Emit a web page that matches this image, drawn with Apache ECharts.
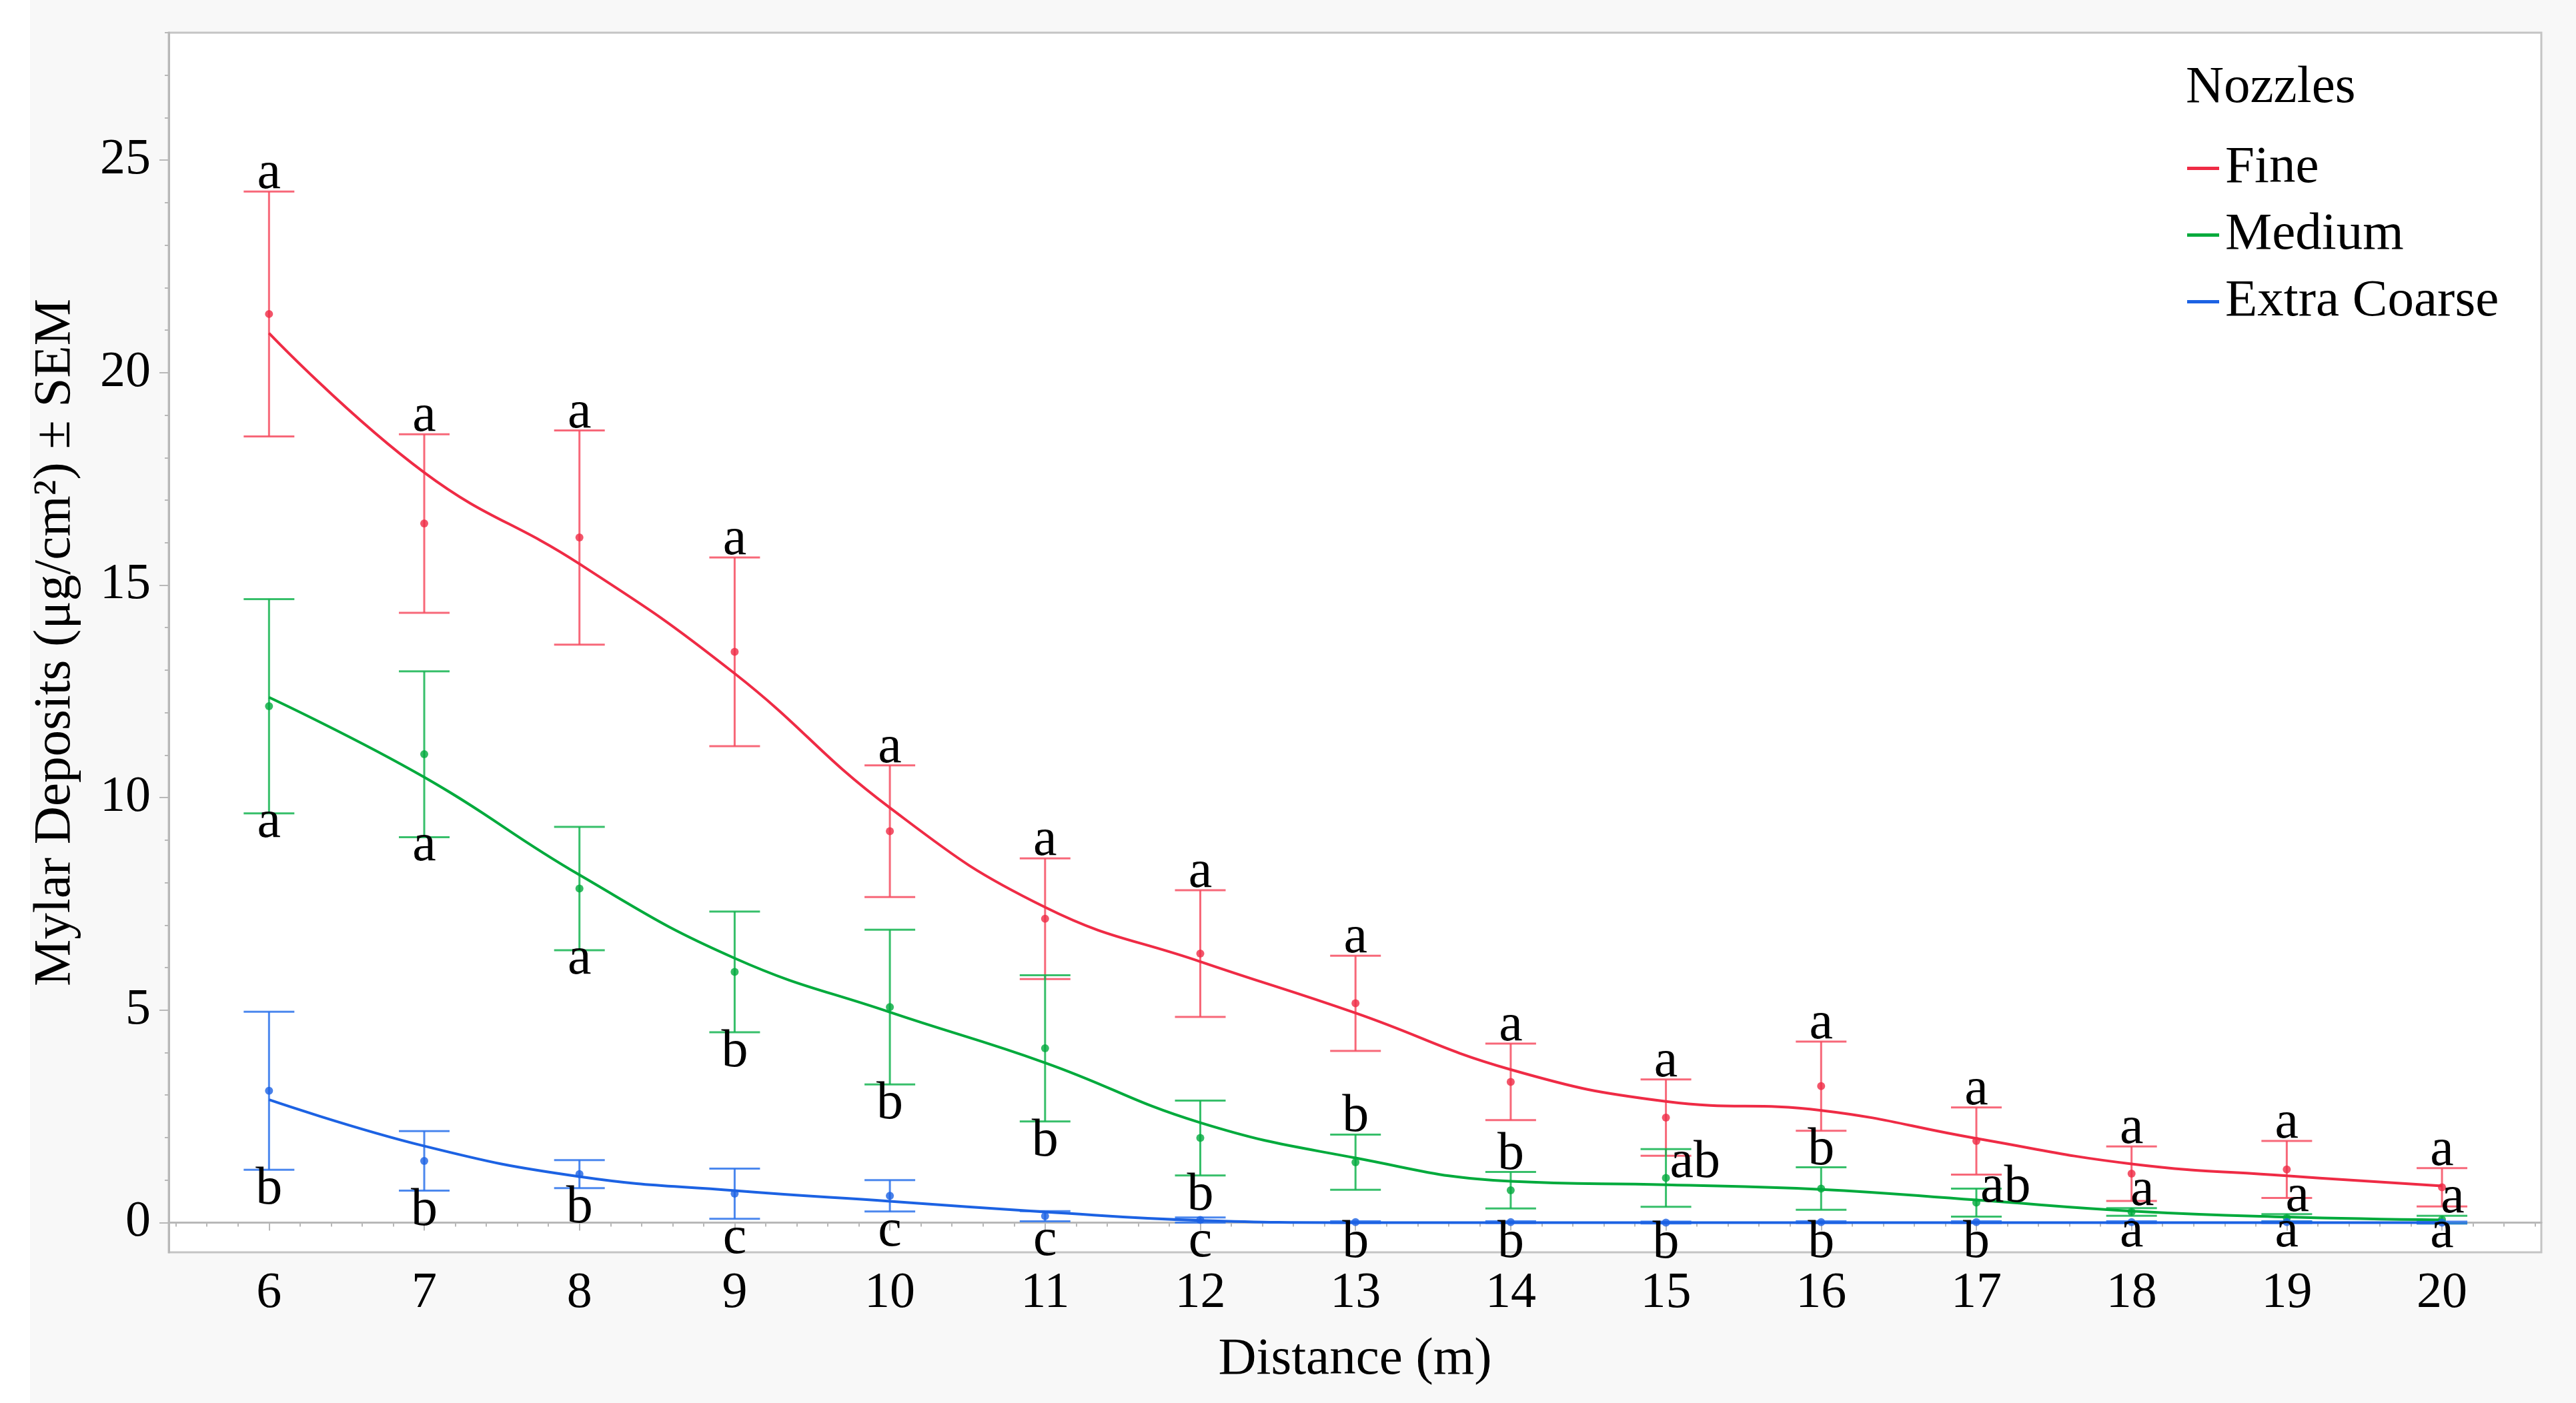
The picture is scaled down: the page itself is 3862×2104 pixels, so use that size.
<!DOCTYPE html>
<html><head><meta charset="utf-8">
<script src="https://cdn.jsdelivr.net/npm/echarts@6/dist/echarts.min.js"></script>
<style>html,body{margin:0;padding:0;background:#fff}#c{width:3862px;height:2104px}</style>
</head><body><div id="c"></div>
<script>
// ---------------- data ----------------
const distances = [6, 7, 8, 9, 10, 11, 12, 13, 14, 15, 16, 17, 18, 19, 20];
const xTickLabels = [6, 7, 8, 9, 10, 11, 12, 13, 14, 15, 16, 17, 18, 19, 20];
const yTickLabels = [0, 5, 10, 15, 20, 25];
const seriesNames = ['Fine', 'Medium', 'Extra Coarse'];

const fineMean = [21.38, 16.45, 16.12, 13.43, 9.21, 7.15, 6.33, 5.16, 3.31, 2.47, 3.21, 1.92, 1.15, 1.25, 0.83];
const fineSEM  = [2.88, 2.10, 2.52, 2.22, 1.55, 1.42, 1.49, 1.12, 0.90, 0.90, 1.05, 0.79, 0.64, 0.67, 0.45];
const fineFit  = [20.93, 17.65, 15.50, 12.92, 9.76, 7.42, 6.14, 4.93, 3.60, 2.85, 2.64, 1.98, 1.38, 1.10, 0.86];
const fineLetters = ['a','a','a','a','a','a','a','a','a','a','a','a','a','a','a'];
const finePlace   = ['above','above','above','above','above','above','above','above','above','above','above','above','above','above','above'];

const mediumMean = [12.15, 11.02, 7.86, 5.90, 5.07, 4.10, 1.99, 1.42, 0.76, 1.05, 0.80, 0.47, 0.25, 0.11, 0.07];
const mediumSEM  = [2.52, 1.95, 1.45, 1.42, 1.82, 1.72, 0.88, 0.65, 0.43, 0.68, 0.50, 0.33, 0.09, 0.09, 0.09];
const mediumFit  = [12.36, 10.48, 8.18, 6.22, 4.95, 3.76, 2.35, 1.52, 0.97, 0.89, 0.78, 0.53, 0.27, 0.13, 0.06];
const mediumLetters = ['a','a','a','b','b','b','b','b','b','ab','b','ab','a','a','a'];
const mediumPlace   = ['below','below','below','below','below','below','below','above','above','right','above','right','aboveRight','aboveRight','aboveRight'];

const coarseMean = [3.10, 1.45, 1.14, 0.68, 0.63, 0.15, 0.06, 0.01, 0.01, 0.00, 0.01, 0.01, 0.01, 0.01, 0.00];
const coarseSEM  = [1.86, 0.70, 0.33, 0.59, 0.37, 0.12, 0.06, 0.02, 0.02, 0.02, 0.02, 0.02, 0.02, 0.02, 0.02];
const coarseFit  = [2.89, 1.80, 1.08, 0.75, 0.50, 0.25, 0.05, 0.00, 0.00, 0.00, 0.00, 0.00, 0.00, 0.00, 0.00];
const coarseLetters = ['b','b','b','c','c','c','c','b','b','b','b','b','a','a','a'];
const coarsePlace   = ['below','below','below','below','below','below','below','below','below','below','below','below','below','below','below'];

// ---------------- style ----------------
const FONT = '"Liberation Serif", "DejaVu Serif", "Noto Serif", serif';
const lineColors = ['#ef2b45', '#00aa3c', '#1c62e3'];
const barColors  = ['rgba(246,78,98,0.85)', 'rgba(20,180,80,0.85)', 'rgba(45,115,235,0.85)'];
const axisGray = '#b8b8b8';

const X_MIN = 5.354, X_MAX = 20.64, Y_MIN = -0.7, Y_MAX = 28;
const xMinor = [], yMinor = [];
for (let k = 27; k <= 103; k++) { if (k % 5 !== 0) xMinor.push(k / 5); }
for (let v = 1; v <= 28; v++) { if (v % 5 !== 0) yMinor.push(v); }

function errRender(color) {
  return function (params, api) {
    const x = api.value(0), lo = api.value(1), hi = api.value(2);
    const pLo = api.coord([x, lo]), pHi = api.coord([x, hi]);
    const hw = 38;
    const st = { stroke: color, lineWidth: 3 };
    return { type: 'group', children: [
      { type: 'line', shape: { x1: pLo[0], y1: pLo[1], x2: pHi[0], y2: pHi[1] }, style: st },
      { type: 'line', shape: { x1: pLo[0] - hw, y1: pLo[1], x2: pLo[0] + hw, y2: pLo[1] }, style: st },
      { type: 'line', shape: { x1: pHi[0] - hw, y1: pHi[1], x2: pHi[0] + hw, y2: pHi[1] }, style: st }
    ]};
  };
}

function letterRender(letters, places) {
  return function (params, api) {
    const i = params.dataIndex;
    const x = api.value(0), m = api.value(1), s = api.value(2);
    const txt = letters[i], pl = places[i];
    let p, style = { text: txt, fill: '#000', font: '80px ' + FONT };
    if (pl === 'above' || pl === 'aboveRight') {
      p = api.coord([x, m + s]);
      style.x = p[0] + (pl === 'aboveRight' ? 16 : 0);
      style.y = p[1] + 14;
      style.align = 'center'; style.verticalAlign = 'bottom';
    } else if (pl === 'below') {
      p = api.coord([x, m - s]);
      style.x = p[0];
      style.y = p[1] + (txt === 'a' ? -26 : -10);
      style.align = 'center'; style.verticalAlign = 'top';
    } else {
      p = api.coord([x, m]);
      style.x = p[0] + 6;
      style.y = p[1] + 18;
      style.align = 'left'; style.verticalAlign = 'bottom';
    }
    return { type: 'text', style: style };
  };
}

const groups = [
  { mean: fineMean, sem: fineSEM, fit: fineFit, letters: fineLetters, place: finePlace },
  { mean: mediumMean, sem: mediumSEM, fit: mediumFit, letters: mediumLetters, place: mediumPlace },
  { mean: coarseMean, sem: coarseSEM, fit: coarseFit, letters: coarseLetters, place: coarsePlace }
];

const series = [];
groups.forEach((g, gi) => {
  series.push({
    type: 'custom', name: seriesNames[gi] + ' SEM', xAxisIndex: 0, yAxisIndex: 0, z: 2,
    renderItem: errRender(barColors[gi]),
    encode: { x: 0, y: [1, 2] },
    data: distances.map((d, i) => [d, g.mean[i] - g.sem[i], g.mean[i] + g.sem[i]]),
    silent: true
  });
});
groups.forEach((g, gi) => {
  series.push({
    type: 'line', name: seriesNames[gi], xAxisIndex: 0, yAxisIndex: 0, z: 3,
    smooth: 0.45, showSymbol: false, symbol: 'none',
    lineStyle: { color: lineColors[gi], width: 4 },
    itemStyle: { color: lineColors[gi] },
    data: distances.map((d, i) => [d, g.fit[i]])
  });
  series.push({
    type: 'scatter', name: seriesNames[gi] + ' mean', xAxisIndex: 0, yAxisIndex: 0, z: 4,
    symbolSize: 12, itemStyle: { color: lineColors[gi] },
    data: distances.map((d, i) => [d, g.mean[i]])
  });
});
groups.forEach((g, gi) => {
  series.push({
    type: 'custom', name: seriesNames[gi] + ' letters', xAxisIndex: 0, yAxisIndex: 0, z: 5,
    renderItem: letterRender(g.letters, g.place),
    encode: { x: 0, y: 1 },
    data: distances.map((d, i) => [d, g.mean[i], g.sem[i]]),
    silent: true
  });
});

const chart = echarts.init(document.getElementById('c'), null, { width: 3862, height: 2104 });
chart.setOption({
  animation: false,
  backgroundColor: '#f8f8f8',
  textStyle: { fontFamily: FONT },
  graphic: [
    { type: 'rect', left: 0, top: 0, shape: { width: 45, height: 2104 }, style: { fill: '#ffffff' }, z: -10 }
  ],
  title: {
    text: 'Nozzles', left: 3272, top: 88,
    textStyle: { fontFamily: FONT, fontSize: 79, fontWeight: 'normal', color: '#000' }
  },
  legend: {
    data: seriesNames, orient: 'vertical', left: 3274, top: 208,
    icon: 'rect', itemWidth: 48, itemHeight: 5, itemGap: 21,
    textStyle: { fontFamily: FONT, fontSize: 79, color: '#000', padding: [0, 0, 0, 4] }
  },
  grid: {
    left: 253, right: 52, top: 49, bottom: 226, containLabel: false,
    show: true, backgroundColor: '#ffffff', borderColor: '#c4c4c4', borderWidth: 3
  },
  xAxis: [{
    type: 'value', min: X_MIN, max: X_MAX, position: 'bottom',
    axisLine: { show: true, lineStyle: { color: axisGray, width: 3 } },
    axisTick: { show: true, length: 12, customValues: xTickLabels, lineStyle: { color: axisGray, width: 2 } },
    axisLabel: { customValues: xTickLabels, margin: 24, fontSize: 76, fontFamily: FONT, color: '#000' },
    splitLine: { show: false },
    name: 'Distance (m)', nameLocation: 'middle', nameGap: 122,
    nameTextStyle: { fontSize: 79, fontFamily: FONT, color: '#000' }
  }, {
    type: 'value', min: X_MIN, max: X_MAX, position: 'bottom',
    axisLine: { show: false },
    axisTick: { show: true, length: 6, customValues: xMinor, lineStyle: { color: axisGray, width: 2 } },
    axisLabel: { show: false }, splitLine: { show: false }
  }],
  yAxis: [{
    type: 'value', min: Y_MIN, max: Y_MAX, position: 'left',
    axisLine: { show: true, lineStyle: { color: axisGray, width: 3 } },
    axisTick: { show: true, length: 14, customValues: yTickLabels, lineStyle: { color: axisGray, width: 2 } },
    axisLabel: { customValues: yTickLabels, margin: 27, fontSize: 76, fontFamily: FONT, color: '#000' },
    splitLine: { show: false },
    name: 'Mylar Deposits (\u03bcg/cm\u00b2) \u00b1 SEM', nameLocation: 'middle', nameGap: 130, nameRotate: 90,
    nameTextStyle: { fontSize: 79, fontFamily: FONT, color: '#000' }
  }, {
    type: 'value', min: Y_MIN, max: Y_MAX, position: 'left',
    axisLine: { show: false },
    axisTick: { show: true, length: 6, customValues: yMinor, lineStyle: { color: axisGray, width: 2 } },
    axisLabel: { show: false }, splitLine: { show: false }
  }],
  series: series
});
</script></body></html>
